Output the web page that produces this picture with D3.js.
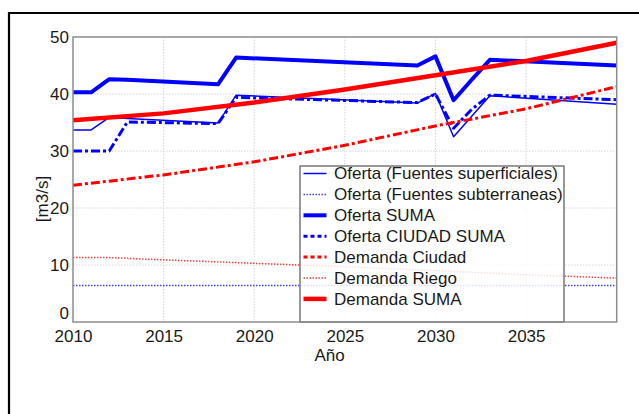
<!DOCTYPE html>
<html>
<head>
<meta charset="utf-8">
<script src="https://cdn.jsdelivr.net/npm/d3@7"></script>
<style>
  body { margin: 0; background: #fff; }
  svg { display: block; font-family: 'Liberation Sans', Arial, sans-serif; }
  .tick text { fill: #1a1a1a; font-size: 17px; }
</style>
</head>
<body>
<div data-vis="balance"></div>
<script>
// Supply series (read at the break points of the lines)
const ofertaYears = [2010, 2011, 2012, 2013, 2018, 2019, 2029, 2030, 2031, 2032, 2033, 2040];
const ofertaSuperficiales = [33.7, 33.7, 35.9, 35.7, 34.9, 39.8, 38.4, 40.1, 32.5, 36.1, 39.7, 38.2];
const ofertaSuma = [40.3, 40.3, 42.6, 42.5, 41.7, 46.4, 45.0, 46.6, 38.9, 42.5, 46.0, 45.0];
const ofertaCiudadSuma = [30.0, 30.0, 30.0, 35.1, 34.8, 39.4, 38.5, 40.0, 34.0, 37.3, 39.8, 39.0];

const subterraneasYears = [2010, 2040];
const ofertaSubterraneas = [6.4, 6.4];

// Demand series
const demandaYears = [2010, 2015, 2020, 2025, 2030, 2035, 2040];
const demandaCiudad = [24.0, 25.8, 28.1, 31.0, 34.4, 37.4, 41.3];
const demandaSuma = [35.4, 36.6, 38.5, 40.8, 43.3, 45.8, 49.0];

const riegoYears = [2010, 2012, 2015, 2020, 2025, 2030, 2035, 2040];
const demandaRiego = [11.3, 11.3, 10.9, 10.3, 9.7, 9.0, 8.3, 7.7];

const xTicks = [2010, 2015, 2020, 2025, 2030, 2035];
const yTicks = [0, 10, 20, 30, 40, 50];

const series = [
  { name: 'Oferta (Fuentes superficiales)', years: ofertaYears, values: ofertaSuperficiales, color: '#0000ff', width: 1.5, dash: null },
  { name: 'Oferta (Fuentes subterraneas)', years: subterraneasYears, values: ofertaSubterraneas, color: '#0000ff', width: 1.5, dash: '1.5,1.5', opacity: 0.75 },
  { name: 'Oferta SUMA', years: ofertaYears, values: ofertaSuma, color: '#0000ff', width: 4, dash: null },
  { name: 'Oferta CIUDAD SUMA', years: ofertaYears, values: ofertaCiudadSuma, color: '#0000ff', width: 3, dash: '9,3,3,3' },
  { name: 'Demanda Ciudad', years: demandaYears, values: demandaCiudad, color: '#ff0000', width: 3, dash: '9,3,3,3' },
  { name: 'Demanda Riego', years: riegoYears, values: demandaRiego, color: '#ff0000', width: 1.5, dash: '1.5,1.5', opacity: 0.75 },
  { name: 'Demanda SUMA', years: demandaYears, values: demandaSuma, color: '#ff0000', width: 4.5, dash: null }
];

const legendDash = { 'Oferta CIUDAD SUMA': '4,3', 'Demanda Ciudad': '4,3' };

function showBalanceChart (placeholder) {
  const fullWidth = 639;
  const fullHeight = 414;
  const margin = { top: 37, right: 22.3, bottom: 92, left: 73 };
  const width = fullWidth - margin.left - margin.right;
  const height = fullHeight - margin.top - margin.bottom;

  const xScale = d3.scaleLinear().domain([2010, 2040]).range([0, width]);
  const yScale = d3.scaleLinear().domain([0, 50]).range([height, 0]);

  const root = d3.select(placeholder)
    .append('svg')
      .attr('width', fullWidth)
      .attr('height', fullHeight);

  // outer frame (only top and left edges are visible)
  root.append('line')
      .attr('x1', 9).attr('x2', fullWidth)
      .attr('y1', 13).attr('y2', 13)
      .attr('stroke', '#000').attr('stroke-width', 2.2);
  root.append('line')
      .attr('x1', 9).attr('x2', 9)
      .attr('y1', 12).attr('y2', fullHeight)
      .attr('stroke', '#000').attr('stroke-width', 2.2);

  const svg = root.append('g')
      .attr('transform', 'translate(' + margin.left + ',' + margin.top + ')');

  // grid
  svg.append('g')
    .selectAll('line')
    .data(xTicks.slice(1))
    .enter().append('line')
      .attr('x1', (d) => xScale(d)).attr('x2', (d) => xScale(d))
      .attr('y1', 0).attr('y2', height)
      .attr('stroke', '#d4d4d4').attr('stroke-dasharray', '1.5,1.5');
  svg.append('g')
    .selectAll('line')
    .data(yTicks.slice(1, -1))
    .enter().append('line')
      .attr('y1', (d) => yScale(d)).attr('y2', (d) => yScale(d))
      .attr('x1', 0).attr('x2', width)
      .attr('stroke', '#d4d4d4').attr('stroke-dasharray', '1.5,1.5');

  const line = d3.line()
    .x((d) => xScale(d[0]))
    .y((d) => yScale(d[1]));

  svg.append('g')
    .selectAll('path')
    .data(series)
    .enter().append('path')
      .attr('d', (s) => line(s.years.map((y, i) => [y, s.values[i]])))
      .attr('fill', 'none')
      .attr('stroke', (s) => s.color)
      .attr('stroke-width', (s) => s.width)
      .attr('stroke-opacity', (s) => s.opacity || 1)
      .attr('stroke-dasharray', (s) => s.dash)
      .attr('stroke-linejoin', 'round');

  // axes
  svg.append('g')
      .attr('transform', 'translate(0,' + height + ')')
      .call(d3.axisBottom(xScale).tickValues(xTicks).tickSize(0).tickPadding(8).tickFormat(d3.format('d')))
      .call((g) => g.select('.domain').remove());

  svg.append('g')
      .call(d3.axisLeft(yScale).tickValues(yTicks).tickSize(0).tickPadding(4))
      .call((g) => g.select('.domain').remove())
      .call((g) => g.selectAll('.tick text').attr('dy', (d) => d === 0 ? '-0.2em' : '0.32em'));

  // legend
  const legendX = 300 - margin.left;
  const legendY = 166 - margin.top;
  const rowHeight = 20.9;
  const legend = svg.append('g')
      .attr('transform', 'translate(' + legendX + ',' + legendY + ')');
  legend.append('rect')
      .attr('width', 264)
      .attr('height', 156)
      .attr('fill', '#fff')
      .attr('fill-opacity', 0.82)
      .attr('stroke', '#777')
      .attr('stroke-width', 1.5);
  const rows = legend.selectAll('g.row')
    .data(series)
    .enter().append('g')
      .attr('class', 'row')
      .attr('transform', (d, i) => 'translate(0,' + (7.5 + i * rowHeight) + ')');
  rows.append('line')
      .attr('x1', 3.5).attr('x2', 26.5)
      .attr('stroke', (s) => s.color)
      .attr('stroke-width', (s) => s.width)
      .attr('stroke-opacity', (s) => s.opacity || 1)
      .attr('stroke-dasharray', (s) => legendDash[s.name] || s.dash);
  rows.append('text')
      .attr('x', 34)
      .attr('dy', '0.35em')
      .style('font-size', '17px')
      .style('fill', '#1a1a1a')
      .text((s) => s.name);

  // plot box on top
  svg.append('rect')
      .attr('width', width)
      .attr('height', height)
      .attr('fill', 'none')
      .attr('stroke', '#8c8c8c')
      .attr('stroke-width', 1.5);

  // axis labels
  svg.append('text')
      .attr('transform', 'rotate(-90)')
      .attr('x', -(199 - margin.top))
      .attr('y', 42 - margin.left)
      .attr('dy', '0.35em')
      .style('text-anchor', 'middle')
      .style('font-size', '17px')
      .style('fill', '#1a1a1a')
      .text('[m3/s]');

  svg.append('text')
      .attr('x', 329.5 - margin.left)
      .attr('y', 361 - margin.top)
      .style('text-anchor', 'middle')
      .style('font-size', '17px')
      .style('fill', '#1a1a1a')
      .text('Año');
}

showBalanceChart(document.querySelector('[data-vis="balance"]'));
</script>
</body>
</html>
